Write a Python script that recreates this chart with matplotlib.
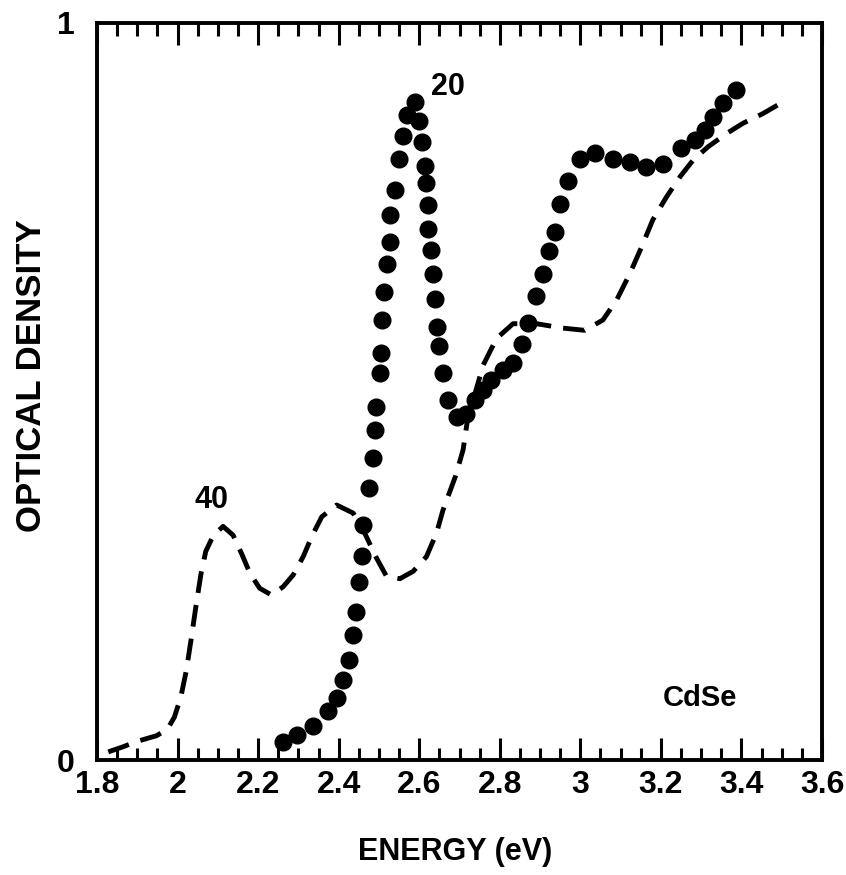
import numpy as np
import matplotlib
matplotlib.use('Agg')
import matplotlib.pyplot as plt
from matplotlib.ticker import MultipleLocator

plt.rcParams['font.family'] = ['Liberation Sans', 'DejaVu Sans']
plt.rcParams['font.weight'] = 'bold'

# 20 A dots (energy eV, optical density)
e20 = [2.261, 2.296, 2.337, 2.374, 2.395, 2.411, 2.426, 2.436, 2.443, 2.451,
       2.457, 2.461, 2.476, 2.486, 2.490, 2.492, 2.502, 2.506, 2.507, 2.512,
       2.520, 2.527, 2.527, 2.539, 2.550, 2.560, 2.570, 2.589, 2.600, 2.608,
       2.614, 2.618, 2.622, 2.622, 2.628, 2.635, 2.639, 2.643, 2.649, 2.659,
       2.672, 2.693, 2.716, 2.738, 2.759, 2.779, 2.808, 2.833, 2.854, 2.870,
       2.891, 2.907, 2.922, 2.936, 2.949, 2.969, 2.999, 3.036, 3.081, 3.123,
       3.164, 3.204, 3.251, 3.284, 3.309, 3.329, 3.355, 3.387]
od20 = [0.025, 0.034, 0.046, 0.066, 0.084, 0.109, 0.136, 0.170, 0.201, 0.242,
        0.277, 0.319, 0.369, 0.410, 0.448, 0.479, 0.525, 0.552, 0.597, 0.635,
        0.673, 0.703, 0.739, 0.773, 0.816, 0.847, 0.875, 0.893, 0.867, 0.838,
        0.806, 0.783, 0.753, 0.721, 0.692, 0.660, 0.626, 0.588, 0.562, 0.525,
        0.488, 0.466, 0.470, 0.488, 0.502, 0.516, 0.529, 0.538, 0.565, 0.593,
        0.629, 0.660, 0.690, 0.717, 0.755, 0.785, 0.816, 0.823, 0.816, 0.812,
        0.805, 0.809, 0.830, 0.841, 0.855, 0.873, 0.891, 0.909]

# 40 A dashed curve
e40 = [1.828, 1.865, 1.898, 1.948, 1.975, 1.992, 2.008, 2.022, 2.034, 2.046,
       2.058, 2.070, 2.089, 2.113, 2.138, 2.159, 2.180, 2.204, 2.233, 2.262,
       2.287, 2.312, 2.333, 2.358, 2.395, 2.436, 2.461, 2.494, 2.519, 2.552,
       2.585, 2.618, 2.643, 2.659, 2.690, 2.709, 2.721, 2.740, 2.759, 2.792,
       2.833, 2.891, 2.957, 3.011, 3.056, 3.090, 3.123, 3.152, 3.180, 3.214,
       3.247, 3.280, 3.317, 3.363, 3.404, 3.453, 3.491]
od40 = [0.011, 0.018, 0.025, 0.033, 0.042, 0.058, 0.085, 0.122, 0.165, 0.210,
        0.252, 0.283, 0.305, 0.317, 0.305, 0.280, 0.253, 0.233, 0.224, 0.235,
        0.251, 0.276, 0.303, 0.330, 0.346, 0.335, 0.312, 0.274, 0.249, 0.246,
        0.256, 0.276, 0.308, 0.339, 0.385, 0.421, 0.466, 0.500, 0.536, 0.572,
        0.592, 0.592, 0.586, 0.583, 0.597, 0.624, 0.660, 0.696, 0.733, 0.764,
        0.791, 0.814, 0.832, 0.850, 0.864, 0.877, 0.889]

fig = plt.figure(figsize=(8.46, 8.75), dpi=100)
ax = fig.add_axes([97 / 846, 115 / 875, 725 / 846, 737 / 875])

ax.plot(e40, od40, color='black', lw=3.5, ls=(0, (4.5, 2.5)), dash_capstyle='butt')
ax.plot(e20, od20, 'o', color='black', ms=12, mec='black')

ax.set_xlim(1.8, 3.6)
ax.set_ylim(0, 1)

for s in ax.spines.values():
    s.set_linewidth(2.8)

ax.xaxis.set_minor_locator(MultipleLocator(0.05))
ax.tick_params(axis='x', which='both', direction='in', top=True, bottom=True, width=2.2)
ax.tick_params(axis='x', which='major', length=16, pad=7, labelsize=23)
ax.tick_params(axis='x', which='minor', length=9)
ax.set_xticks([1.8, 2.0, 2.2, 2.4, 2.6, 2.8, 3.0, 3.2, 3.4, 3.6])
ax.set_xticklabels(['1.8', '2', '2.2', '2.4', '2.6', '2.8', '3', '3.2', '3.4', '3.6'])

ax.set_yticks([0, 1])
ax.set_yticklabels(['0', '1'])
ax.tick_params(axis='y', length=0, pad=16, labelsize=23)

fig.text(455 / 846, 1 - 852 / 875, 'ENERGY (eV)', fontsize=22, fontweight='bold',
         ha='center', va='center')
fig.text(32 / 846, 1 - 376 / 875, 'OPTICAL DENSITY', fontsize=25, fontweight='bold',
         ha='center', va='center', rotation=90)

ax.text(2.085, 0.332, '40', fontsize=22, fontweight='bold', ha='center', va='bottom')
ax.text(2.628, 0.893, '20', fontsize=22, fontweight='bold', ha='left', va='bottom')
ax.text(3.296, 0.065, 'CdSe', fontsize=21, fontweight='bold', ha='center', va='bottom')

fig.savefig('out.png', dpi=100)
